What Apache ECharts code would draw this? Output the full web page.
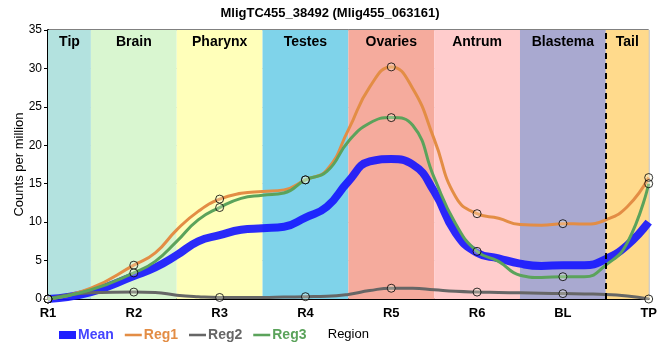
<!DOCTYPE html>
<html><head><meta charset="utf-8">
<script src="https://cdn.jsdelivr.net/npm/echarts@6/dist/echarts.min.js"></script>
<style>html,body{margin:0;padding:0;background:#fff}#c{width:660px;height:360px}</style>
</head><body><div id="c"></div>
<script>
// Tick labels (x positions 0..7)
const categories = ["R1","R2","R3","R4","R5","R6","BL","TP"];
// Region bands
const regionNames = ["Tip","Brain","Pharynx","Testes","Ovaries","Antrum","Blastema","Tail"];
const regionStart = [0, 0.5, 1.5, 2.5, 3.5, 4.5, 5.5, 6.5];
const regionEnd   = [0.5, 1.5, 2.5, 3.5, 4.5, 5.5, 6.5, 7];
const regionColors = ["#b3e2df","#d9f6d0","#ffffba","#7fd3ea","#f5ab9d","#ffcccc","#a9a9d0","#ffda8c"];

// Measured values at each region (markers)
const reg1 = [0, 4.4, 13.0, 15.5, 30.2, 11.1, 9.8, 15.8];
const reg2 = [0, 0.9, 0.2, 0.3, 1.4, 0.9, 0.7, 0.0];
const reg3 = [0, 3.4, 11.9, 15.5, 23.6, 6.2, 2.9, 15.0];

// Drawn curves at these x positions
const curveX    = [0, 0.5, 1, 1.25, 1.5, 1.75, 2, 2.25, 2.5, 2.75, 3, 3.25, 3.5, 3.75, 4, 4.25, 4.5, 4.75, 5, 5.25, 5.5, 5.75, 6, 6.25, 6.5, 6.75, 7];
const meanCurve = [0, 0.9, 3.0, 4.1, 5.7, 7.5, 8.3, 9.0, 9.2, 9.4, 10.6, 12.0, 15.3, 17.9, 18.2, 17.5, 14.0, 8.6, 6.0, 5.3, 4.6, 4.3, 4.4, 4.4, 5.2, 7.0, 10.0];
const reg1Curve = [0, 1.4, 4.4, 6.0, 9.0, 11.4, 13.0, 13.75, 14.0, 14.2, 15.5, 16.8, 22.0, 27.6, 30.2, 27.4, 20.8, 13.3, 11.1, 10.5, 9.7, 9.6, 9.8, 9.75, 10.3, 12.0, 15.8];
const reg2Curve = [0, 0.8, 0.9, 0.85, 0.5, 0.3, 0.2, 0.2, 0.2, 0.25, 0.3, 0.35, 0.6, 1.1, 1.4, 1.4, 1.2, 1.0, 0.9, 0.85, 0.8, 0.75, 0.7, 0.65, 0.6, 0.4, 0.0];
const reg3Curve = [0, 1.2, 3.4, 4.9, 7.5, 10.3, 11.9, 13.1, 13.5, 13.8, 15.5, 16.6, 20.5, 22.9, 23.6, 22.6, 15.8, 9.8, 6.2, 4.9, 3.1, 2.8, 2.9, 2.9, 4.4, 7.3, 15.0];

const dashX = 6.5;

const pair = (xs, ys) => xs.map((x,i)=>[x, ys[i]]);
const idx = categories.map((_,i)=>i);

const colMean = "rgba(20,20,255,0.9)", col1 = "#e38d45", col2 = "#666666", col3 = "#5ba35b";
const FF = 'Liberation Sans, Arial';

const chart = echarts.init(document.getElementById('c'));
const lineSeries = (name, data, color, width) => ({
  name, type:'line', data: pair(curveX, data), smooth: 0.5, showSymbol:false, symbol:'none',
  lineStyle:{color, width}, itemStyle:{color}, z:3, emphasis:{disabled:true}, silent:true
});
const markerSeries = (data) => ({
  type:'scatter', data: pair(idx, data), symbol:'circle', symbolSize:8,
  itemStyle:{color:'rgba(255,255,230,0.35)', borderColor:'#000', borderWidth:1}, z:5, silent:true
});
const thin = 'path://M0,0 L20,0 L20,3 L0,3 Z';

chart.setOption({
  animation:false,
  title:{text:"MligTC455_38492 (Mlig455_063161)", left:'center', top:2,
    textStyle:{fontSize:13, fontWeight:'bold', color:'#000', fontFamily:FF}},
  grid:{left:48, right:9, top:30, bottom:61, show:true, borderColor:'#000', borderWidth:1, backgroundColor:'transparent'},
  legend:{data:[
      {name:'Mean', icon:'rect', itemStyle:{color:'#2020ff'}, textStyle:{color:'#4444ff'}},
      {name:'Reg1', icon:thin, textStyle:{color:col1}},
      {name:'Reg2', icon:thin, textStyle:{color:col2}},
      {name:'Reg3', icon:thin, textStyle:{color:col3}}],
    left:54, top:323, itemWidth:17, itemHeight:8, itemGap:11,
    textStyle:{fontSize:14, fontWeight:'bold', fontFamily:FF, padding:[0,0,0,-3]}, selectedMode:false},
  xAxis:{type:'value', min:0, max:7, interval:1,
    name:'Region', nameLocation:'middle', nameGap:29, nameMoveOverlap:false,
    nameTextStyle:{fontSize:13, color:'#000', fontFamily:FF},
    axisLine:{lineStyle:{color:'#000', width:2}}, axisTick:{show:false},
    axisLabel:{formatter:v=>categories[v]||'', color:'#000', fontWeight:'bold', fontSize:13, margin:8, fontFamily:FF},
    splitLine:{show:true, lineStyle:{color:'#c8c8c8', width:1}}},
  yAxis:{type:'value', min:0, max:35, interval:5,
    name:'Counts per million', nameLocation:'middle', nameGap:22, nameMoveOverlap:false,
    nameTextStyle:{fontSize:13, color:'#000', fontFamily:FF},
    axisLine:{show:true, lineStyle:{color:'#000', width:2}}, axisTick:{show:true, length:4, lineStyle:{color:'#000'}},
    axisLabel:{color:'#000', fontSize:12, margin:6, fontFamily:FF},
    splitLine:{show:true, lineStyle:{color:'#c8c8c8', width:1}}},
  series:[
    {type:'line', data:[], z:-1, silent:true,
      markArea:{silent:true, data: regionNames.map((n,i)=>[
        {name:n, xAxis:regionStart[i], itemStyle:{color:regionColors[i]},
         label:{show:true, position:'insideTop', distance:5, color:'#000', fontWeight:'bold', fontSize:14, fontFamily:FF}},
        {xAxis:regionEnd[i]}])},
      markLine:{silent:true, symbol:'none', label:{show:false},
        lineStyle:{color:'#000', type:[6,4], width:2}, data:[{xAxis:dashX}]}},
    lineSeries('Mean', meanCurve, colMean, 8),
    lineSeries('Reg1', reg1Curve, col1, 3),
    lineSeries('Reg2', reg2Curve, col2, 3),
    lineSeries('Reg3', reg3Curve, col3, 3),
    markerSeries(reg1), markerSeries(reg2), markerSeries(reg3)
  ]
});
</script></body></html>
